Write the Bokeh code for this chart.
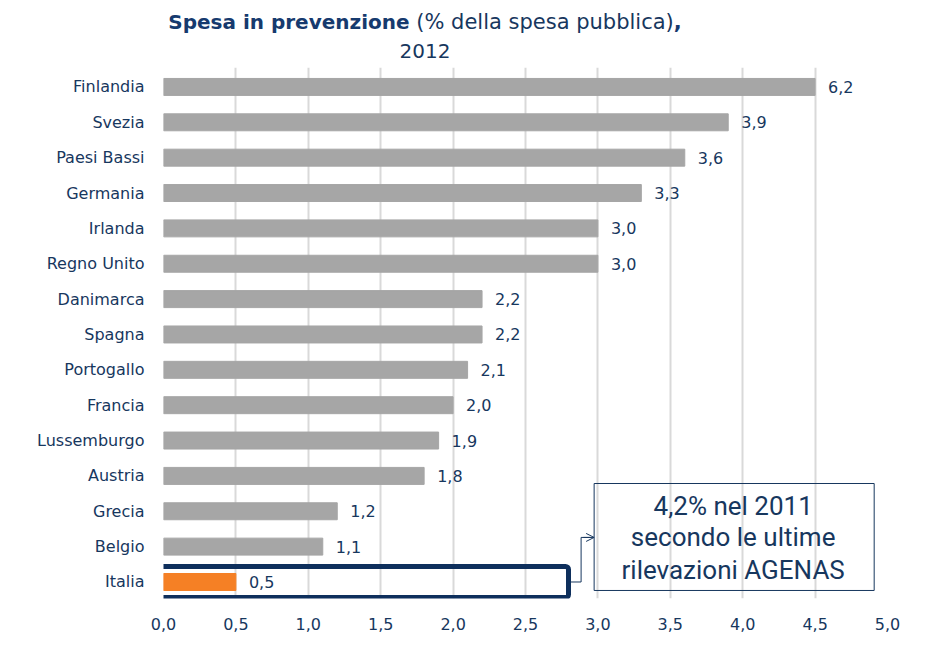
from bokeh.plotting import figure
from bokeh.models import (ColumnDataSource, FixedTicker, CustomJSTickFormatter, Label,
                          BoxAnnotation, Arrow, OpenHead, Div)
from bokeh.layouts import column
from bokeh.core.properties import value
from bokeh.embed import file_html
from bokeh.resources import INLINE

# ---- data ----
countries = ["Finlandia", "Svezia", "Paesi Bassi", "Germania", "Irlanda", "Regno Unito",
             "Danimarca", "Spagna", "Portogallo", "Francia", "Lussemburgo", "Austria",
             "Grecia", "Belgio", "Italia"]
values = [6.2, 3.9, 3.6, 3.3, 3.0, 3.0, 2.2, 2.2, 2.1, 2.0, 1.9, 1.8, 1.2, 1.1, 0.5]
value_labels = ["6,2", "3,9", "3,6", "3,3", "3,0", "3,0", "2,2", "2,2", "2,1", "2,0",
                "1,9", "1,8", "1,2", "1,1", "0,5"]
x_ticks = [0.0, 0.5, 1.0, 1.5, 2.0, 2.5, 3.0, 3.5, 4.0, 4.5, 5.0]
highlight = "Italia"
note_lines = ["4,2% nel 2011", "secondo le ultime", "rilevazioni AGENAS"]
title_bold = "Spesa in prevenzione"
title_rest = "(% della spesa pubblica)"
title_year = "2012"

# ---- styling ----
NAVY = "#17375E"
GRAY = "#A6A6A6"
ORANGE = "#F58025"
BAR_CAP = 4.5   # the longest bar is drawn truncated at the axis

n = len(countries)
ypos = [n - 1 - i for i in range(n)]
bar_len = [min(v, BAR_CAP) for v in values]
colors = [ORANGE if c == highlight else GRAY for c in countries]

src = ColumnDataSource(dict(y=ypos, right=bar_len, color=colors, lab=value_labels, name=countries))

title = Div(
    text=(f'<div style="width:850px;text-align:center;font-family:\'DejaVu Sans\';'
          f'color:{NAVY};line-height:26px;padding-top:9px;white-space:nowrap;">'
          f'<span style="font-weight:bold;font-size:20px;color:#163A6E;">{title_bold}</span>'
          f'<span style="font-size:21px;"> {title_rest}</span>'
          f'<span style="font-weight:bold;font-size:21px;color:#163A6E;">,</span><br>'
          f'<span style="font-size:20px;">{title_year}</span></div>'),
    width=910, height=60, margin=(0, 0, 0, 0))

p = figure(width=910, height=574, output_backend="svg", toolbar_location=None,
           x_range=(0, 5), y_range=(-0.467, 14.55),
           min_border_left=163, min_border_right=23, min_border_top=7, min_border_bottom=36)
p.outline_line_color = None
p.background_fill_color = "white"

p.hbar(y="y", left=0, right="right", height=0.48, color="color", source=src)
p.text(x="right", y="y", text="lab", source=src, x_offset=13, text_baseline="middle",
       text_align="left", text_font=value("DejaVu Sans"), text_font_size="16px", text_color=NAVY)

# axes
p.xaxis.ticker = FixedTicker(ticks=x_ticks)
p.xaxis.formatter = CustomJSTickFormatter(code="return tick.toFixed(1).replace('.', ',');")
p.xaxis.axis_line_color = None
p.xaxis.major_tick_line_color = None
p.xaxis.minor_tick_line_color = None
p.xaxis.major_tick_out = 0
p.xaxis.major_label_standoff = 19
p.xaxis.major_label_text_font = "DejaVu Sans"
p.xaxis.major_label_text_font_size = "16px"
p.xaxis.major_label_text_color = NAVY

p.yaxis.ticker = FixedTicker(ticks=ypos)
p.yaxis.major_label_overrides = {y: c for y, c in zip(ypos, countries)}
p.yaxis.axis_line_color = None
p.yaxis.major_tick_line_color = None
p.yaxis.minor_tick_line_color = None
p.yaxis.major_tick_out = 0
p.yaxis.major_label_standoff = 19
p.yaxis.major_label_text_font = "DejaVu Sans"
p.yaxis.major_label_text_font_size = "16px"
p.yaxis.major_label_text_color = NAVY

p.xgrid.ticker = FixedTicker(ticks=x_ticks)
p.xgrid.grid_line_color = "#D9D9D9"
p.xgrid.grid_line_width = 2
p.ygrid.grid_line_color = None

# highlight box around Italia
iy = ypos[countries.index(highlight)]
p.add_layout(BoxAnnotation(left=-0.07, right=2.797, bottom=iy - 0.44, top=iy + 0.44,
                           fill_color=None, line_color="#0E2F5C", line_alpha=1.0, line_width=5,
                           border_radius=3))

# connector + note box
p.line(x=[2.797, 2.884, 2.884, 2.95], y=[iy, iy, iy + 1.26, iy + 1.26], line_color=NAVY, line_width=1)
p.add_layout(Arrow(end=OpenHead(size=8, line_color=NAVY, line_width=1),
                   x_start=2.90, y_start=iy + 1.26, x_end=2.974, y_end=iy + 1.26,
                   line_color=NAVY, line_width=1))
p.add_layout(BoxAnnotation(left=2.974, right=4.908, bottom=iy - 0.24, top=iy + 2.785,
                           fill_color=None, line_color=NAVY, line_alpha=1.0, line_width=1))
for t, yy in zip(note_lines, [2.163, 1.26, 0.353]):
    p.add_layout(Label(x=3.934, y=iy + yy, text=t, text_align="center", text_baseline="middle",
                       text_font="Roboto", text_font_size="26px", text_color=NAVY))

open("out.html", "w").write(file_html(column(title, p, spacing=0), INLINE))
